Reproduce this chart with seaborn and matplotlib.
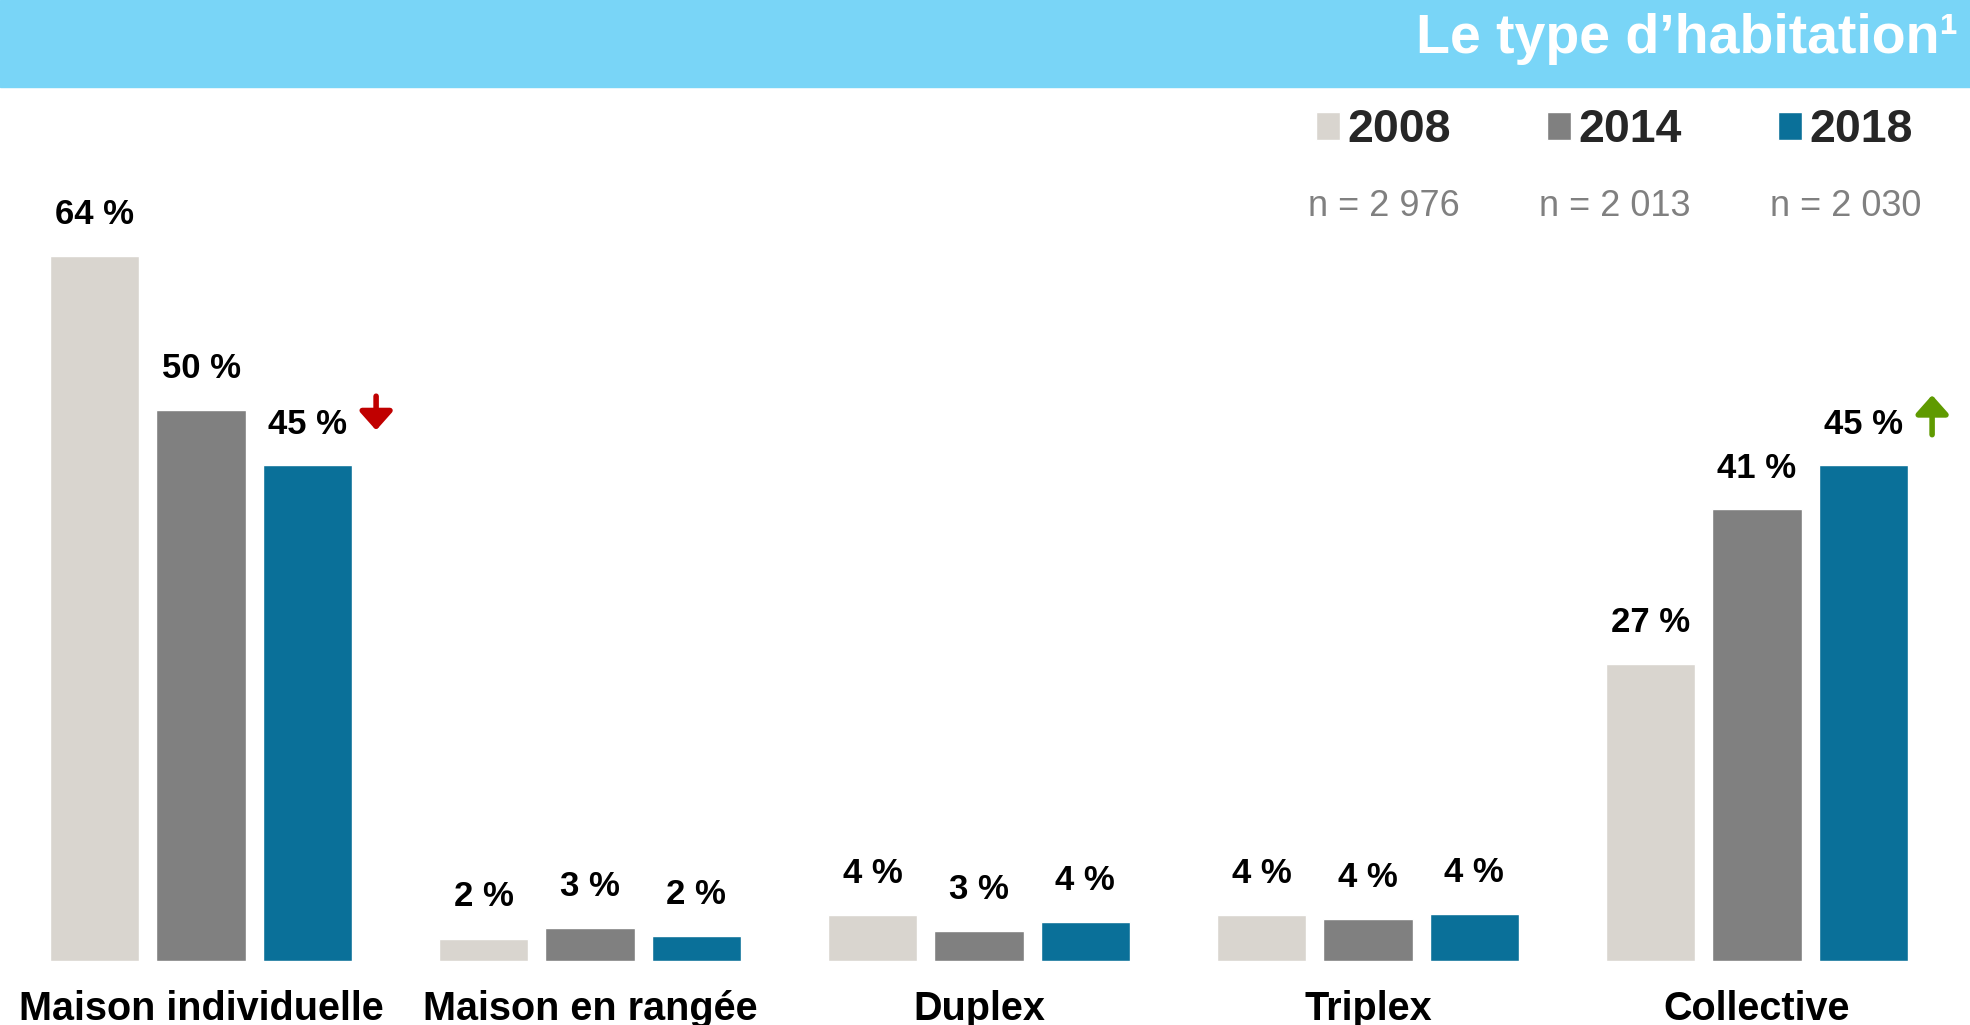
import numpy as np
import pandas as pd
import matplotlib
matplotlib.use("Agg")
import matplotlib.pyplot as plt
import seaborn as sns
from matplotlib.patches import Rectangle


##################################################
#-----------------Data----------------------------
##################################################

categories = ["Maison individuelle", "Maison en rangée", "Duplex", "Triplex", "Collective"]
years = ["2008", "2014", "2018"]
sample_sizes = ["n = 2 976", "n = 2 013", "n = 2 030"]

share_2008 = [64, 2.0, 4.1, 4.1, 27]
share_2014 = [50, 3.0, 2.7, 3.8, 41]
share_2018 = [45, 2.2, 3.5, 4.2, 45]

labels_2008 = ["64 %", "2 %", "4 %", "4 %", "27 %"]
labels_2014 = ["50 %", "3 %", "3 %", "4 %", "41 %"]
labels_2018 = ["45 %", "2 %", "4 %", "4 %", "45 %"]

trend_2018 = [-1, 0, 0, 0, 1]   # significant change shown by an arrow

colors = {"2008": "#D9D5CF", "2014": "#808080", "2018": "#0A7099"}
header_color = "#79D5F7"

df = pd.DataFrame({
    "type": categories * 3,
    "year": [y for y in years for _ in categories],
    "share": share_2008 + share_2014 + share_2018,
})

##################################################
#-----------------Plot----------------------------
##################################################

sns.set_theme(style="white")
plt.rcParams["font.family"] = ["Liberation Sans", "DejaVu Sans"]

W, H = 1970, 1025
fig = plt.figure(figsize=(W / 100, H / 100), dpi=100)

# header band
fig.patches.append(Rectangle((0, 1 - 87 / H), 1, 87 / H, transform=fig.transFigure,
                             color=header_color, zorder=0))
fig.text(1958 / W, 1 - 53 / H, "Le type d\u2019habitation\u00b9", ha="right", va="baseline",
         color="white", fontsize=40, fontweight="bold")

ax = fig.add_axes([6.5 / W, 64.5 / H, 1945 / W, 770 / H])
sns.barplot(data=df, x="type", y="share", hue="year", order=categories, hue_order=years,
            palette=colors, saturation=1, width=0.82, gap=0.16, errorbar=None, ax=ax)

ax.set_xlim(-0.5, 4.5)
ax.set_ylim(0, 70)
ax.set_xlabel("")
ax.set_ylabel("")
ax.set_yticks([])
sns.despine(ax=ax, left=True, bottom=True)
ax.tick_params(axis="x", length=0, pad=21.5, labelsize=28.5, labelcolor="black")
for lab in ax.get_xticklabels():
    lab.set_fontweight("bold")

# value labels
for container, labels in zip(ax.containers, [labels_2008, labels_2014, labels_2018]):
    ax.bar_label(container, labels=labels, padding=18, fontsize=25, fontweight="bold",
                 color="black")

# trend arrows next to the 2018 labels
for patch, trend in zip(ax.containers[2].patches, trend_2018):
    if trend == 0:
        continue
    x = patch.get_x() + patch.get_width() + 0.062
    top = patch.get_height()
    if trend < 0:
        tip, tail, col = top + 3.2, top + 6.3, "#C00000"
    else:
        tip, tail, col = top + 6.4, top + 2.8, "#5F9A00"
    ax.annotate("", xy=(x, tip), xytext=(x, tail),
                arrowprops=dict(arrowstyle="-|>,head_width=0.4,head_length=0.45",
                                color=col, lw=4, mutation_scale=25,
                                shrinkA=0, shrinkB=0))

# legend
handles = ax.get_legend().legend_handles
ax.get_legend().remove()
leg = fig.legend(handles, years, ncol=3, loc="center right",
                 bbox_to_anchor=(1913 / W, 1 - 130 / H), frameon=False,
                 prop={"size": 33.5, "weight": "bold"}, handlelength=0.52,
                 handleheight=0.55, handletextpad=0.17, columnspacing=2.05,
                 borderpad=0, borderaxespad=0)

# sample sizes centred under each legend entry
fig.canvas.draw()
renderer = fig.canvas.get_renderer()
for handle, text, n_label in zip(leg.legend_handles, leg.get_texts(), sample_sizes):
    x0 = handle.get_window_extent(renderer).x0
    x1 = text.get_window_extent(renderer).x1
    cx = fig.transFigure.inverted().transform(((x0 + x1) / 2, 0))[0]
    fig.text(cx, 1 - 207 / H, n_label, ha="center", va="center", color="#808080", fontsize=26)

fig.savefig("out.png", dpi=100)
